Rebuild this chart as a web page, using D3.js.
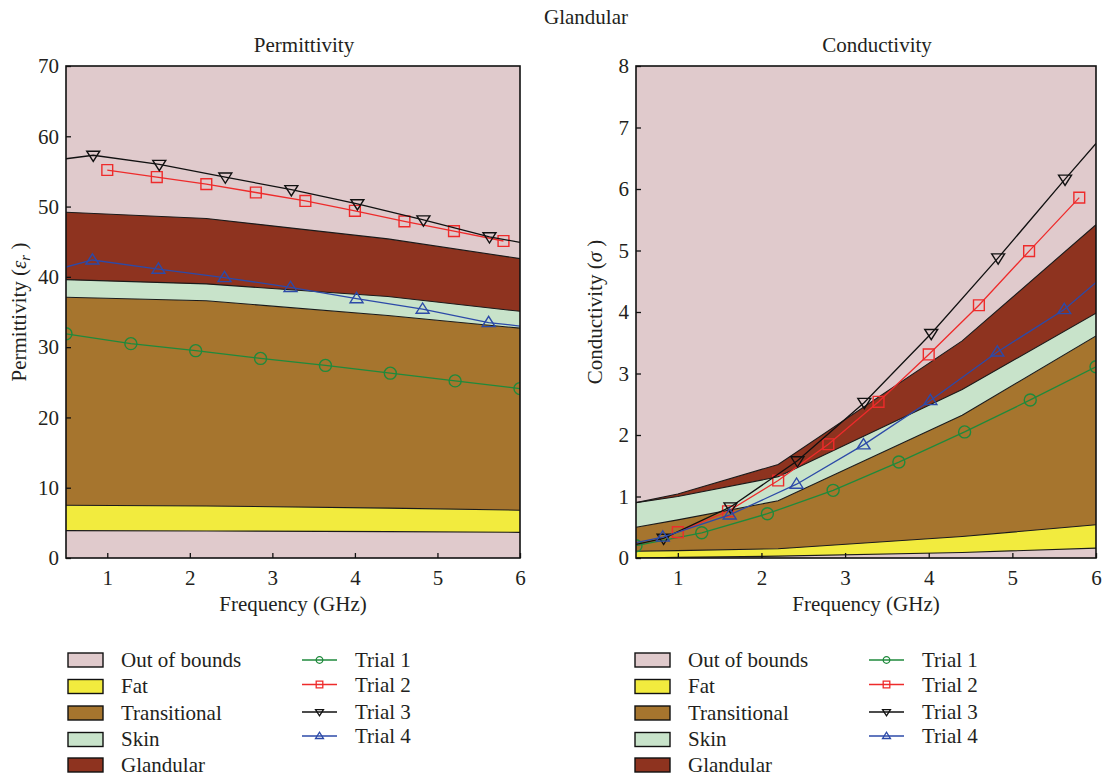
<!DOCTYPE html>
<html>
<head>
<meta charset="utf-8">
<script src="https://cdn.jsdelivr.net/npm/d3@7"></script>
<style>
  html, body { margin: 0; padding: 0; background: #fff; }
  svg text { font-family: "Liberation Serif", "DejaVu Serif", serif; fill: #231f20; }
</style>
</head>
<body>
<div id="plot"></div>
<script>
// tissue bands, boundaries
const permFreq = [0.5, 2.2, 4.4, 6];
const permFatLow = [3.9, 3.85, 3.75, 3.65];
const permFatHigh = [7.5, 7.4, 7.1, 6.8];
const permTransHigh = [37.1, 36.6, 34.5, 32.7];
const permSkinHigh = [39.6, 39.0, 37.2, 35.1];
const permGlandHigh = [49.2, 48.3, 45.4, 42.6];

const condFreq = [0.5, 1.0, 2.2, 4.4, 6];
const condFatLow = [0.0, 0.01, 0.03, 0.09, 0.16];
const condFatHigh = [0.11, 0.12, 0.15, 0.35, 0.54];
const condTransHigh = [0.50, 0.62, 0.93, 2.32, 3.61];
const condSkinHigh = [0.90, 1.00, 1.32, 2.74, 3.98];
const condGlandHigh = [0.90, 1.04, 1.52, 3.53, 5.42];

// trials (first/last entry of trial 3 and 4 are line ends without marker)
const trial1Freq = [0.5, 1.286, 2.071, 2.857, 3.643, 4.429, 5.214, 6.0];
const trial1Perm = [31.9, 30.5, 29.5, 28.4, 27.4, 26.3, 25.2, 24.1];
const trial1Cond = [0.20, 0.41, 0.72, 1.10, 1.56, 2.05, 2.57, 3.11];
const trial1Marked = [1, 1, 1, 1, 1, 1, 1, 1];

const trial2Freq = [1.0, 1.6, 2.2, 2.8, 3.4, 4.0, 4.6, 5.2, 5.8];
const trial2Perm = [55.2, 54.2, 53.2, 52.0, 50.8, 49.4, 47.9, 46.5, 45.1];
const trial2Cond = [0.42, 0.76, 1.26, 1.85, 2.54, 3.31, 4.11, 4.99, 5.86];
const trial2Marked = [1, 1, 1, 1, 1, 1, 1, 1, 1];

const trial3Freq = [0.5, 0.83, 1.63, 2.43, 3.23, 4.03, 4.83, 5.63, 6.0];
const trial3Perm = [56.8, 57.3, 56.0, 54.2, 52.4, 50.4, 48.1, 45.7, 44.9];
const trial3Cond = [0.22, 0.32, 0.83, 1.58, 2.53, 3.65, 4.88, 6.16, 6.74];
const trial3Marked = [0, 1, 1, 1, 1, 1, 1, 1, 0];

const trial4Freq = [0.5, 0.82, 1.62, 2.42, 3.22, 4.02, 4.82, 5.62, 6.0];
const trial4Perm = [41.4, 42.4, 41.1, 39.9, 38.5, 36.9, 35.4, 33.5, 33.0];
const trial4Cond = [0.25, 0.34, 0.70, 1.20, 1.84, 2.56, 3.35, 4.04, 4.48];
const trial4Marked = [0, 1, 1, 1, 1, 1, 1, 1, 0];

const tissueNames = ['Out of bounds', 'Fat', 'Transitional', 'Skin', 'Glandular'];
const tissueColors = ['#e0cacc', '#f2eb3e', '#a6752e', '#c8e3ca', '#8e331f'];
const trialNames = ['Trial 1', 'Trial 2', 'Trial 3', 'Trial 4'];
const trialColors = ['#1f8a3c', '#ee2b2b', '#111111', '#2c4aa8'];
const trialSymbols = ['circle', 'square', 'down', 'up'];

const xTicks = [1, 2, 3, 4, 5, 6];
const permTicks = [0, 10, 20, 30, 40, 50, 60, 70];
const condTicks = [0, 1, 2, 3, 4, 5, 6, 7, 8];

const W = 1108, H = 776;
const fontSize = 21;

const svg = d3.select('#plot').append('svg')
    .attr('width', W).attr('height', H);
svg.append('rect').attr('width', W).attr('height', H).attr('fill', '#fff');

svg.append('text')
    .attr('x', 586).attr('y', 24)
    .attr('text-anchor', 'middle')
    .attr('font-size', fontSize)
    .text('Glandular');

function markerPath(sym, s) {
    // s = half size
    if (sym === 'circle') return d3.symbol(d3.symbolCircle, Math.PI * s * s)();
    if (sym === 'square') return `M${-s},${-s}H${s}V${s}H${-s}Z`;
    const h = s * 1.2;
    if (sym === 'down') return `M${-h},${-s * 0.75}H${h}L0,${s * 1.15}Z`;
    return `M${-h},${s * 0.75}H${h}L0,${-s * 1.15}Z`;
}

function drawPanel(opt) {
    const x = d3.scaleLinear().domain([0.5, 6]).range([opt.left, opt.right]);
    const y = d3.scaleLinear().domain(opt.yDomain).range([558, 66]);
    const g = svg.append('g');

    const clipId = 'clip-' + opt.id;
    g.append('clipPath').attr('id', clipId)
        .append('rect')
        .attr('x', opt.left).attr('y', 66)
        .attr('width', opt.right - opt.left).attr('height', 558 - 66);

    const plotG = g.append('g').attr('clip-path', `url(#${clipId})`);

    plotG.append('rect')
        .attr('x', opt.left).attr('y', 66)
        .attr('width', opt.right - opt.left).attr('height', 558 - 66)
        .attr('fill', tissueColors[0]);

    const bounds = opt.bounds;
    const freq = opt.freq;
    for (let i = 0; i < bounds.length - 1; i++) {
        const lo = bounds[i], hi = bounds[i + 1];
        const area = d3.area()
            .x((d, k) => x(freq[k]))
            .y0((d, k) => y(lo[k]))
            .y1((d, k) => y(hi[k]));
        plotG.append('path')
            .attr('d', area(freq))
            .attr('fill', tissueColors[i + 1]);
    }
    bounds.forEach(b => {
        const line = d3.line().x((d, k) => x(freq[k])).y((d, k) => y(b[k]));
        plotG.append('path')
            .attr('d', line(freq))
            .attr('fill', 'none')
            .attr('stroke', '#1a1a1a')
            .attr('stroke-width', 1.1);
    });

    opt.trials.forEach((t, ti) => {
        const line = d3.line().x((d, k) => x(t.freq[k])).y((d, k) => y(t.val[k]));
        plotG.append('path')
            .attr('d', line(t.freq))
            .attr('fill', 'none')
            .attr('stroke', trialColors[ti])
            .attr('stroke-width', 1.3);
        const pts = t.freq.map((f, k) => ({f, v: t.val[k], m: t.marked[k]})).filter(p => p.m);
        plotG.selectAll(null)
            .data(pts)
            .enter()
            .append('path')
            .attr('transform', p => `translate(${x(p.f)},${y(p.v)})`)
            .attr('d', markerPath(trialSymbols[ti], trialSymbols[ti] === 'circle' ? 6 : 5.4))
            .attr('fill', 'none')
            .attr('stroke', trialColors[ti])
            .attr('stroke-width', 1.4);
    });

    // frame
    g.append('rect')
        .attr('x', opt.left).attr('y', 66)
        .attr('width', opt.right - opt.left).attr('height', 558 - 66)
        .attr('fill', 'none')
        .attr('stroke', '#111')
        .attr('stroke-width', 1.6);

    const xAxis = g.append('g')
        .attr('transform', 'translate(0,558)')
        .call(d3.axisBottom(x).tickValues(xTicks).tickSizeInner(-5).tickSizeOuter(0).tickPadding(12).tickFormat(d3.format('d')));
    const yAxis = g.append('g')
        .attr('transform', `translate(${opt.left},0)`)
        .call(d3.axisLeft(y).tickValues(opt.yTicks).tickSizeInner(-5).tickSizeOuter(0).tickPadding(7).tickFormat(d3.format('d')));
    [xAxis, yAxis].forEach(a => {
        a.select('.domain').remove();
        a.selectAll('line').attr('stroke', '#111').attr('stroke-width', 1.3);
        a.selectAll('text')
            .attr('font-size', fontSize)
            .attr('font-family', '"Liberation Serif", serif')
            .attr('fill', '#231f20');
    });

    g.append('text')
        .attr('x', (opt.left + opt.right) / 2 + 11).attr('y', 52)
        .attr('text-anchor', 'middle')
        .attr('font-size', fontSize)
        .text(opt.title);

    g.append('text')
        .attr('x', (opt.left + opt.right) / 2).attr('y', 611)
        .attr('text-anchor', 'middle')
        .attr('font-size', fontSize)
        .text('Frequency (GHz)');

    const yl = g.append('text')
        .attr('transform', `translate(${opt.yLabelX},312) rotate(-90)`)
        .attr('text-anchor', 'middle')
        .attr('font-size', fontSize);
    yl.append('tspan').text(opt.yLabel + ' (');
    yl.append('tspan').attr('font-style', 'italic').text(opt.ySym);
    if (opt.ySub) {
        yl.append('tspan').attr('font-style', 'italic').attr('font-size', 15).attr('dy', 4).text(opt.ySub);
        yl.append('tspan').attr('dy', -4).text(' )');
    } else {
        yl.append('tspan').text(' )');
    }
}

function drawLegend(x0, xTrial) {
    const rows = [660, 686.5, 713, 739.5, 765];
    const g = svg.append('g');
    tissueNames.forEach((name, i) => {
        g.append('rect')
            .attr('x', x0).attr('y', rows[i] - 7)
            .attr('width', 35).attr('height', 14)
            .attr('fill', tissueColors[i])
            .attr('stroke', '#111').attr('stroke-width', 1.4);
        g.append('text')
            .attr('x', x0 + 53).attr('y', rows[i] + 6.5)
            .attr('font-size', fontSize)
            .text(name);
    });
    const trows = [660, 684.5, 712, 736];
    trialNames.forEach((name, i) => {
        g.append('line')
            .attr('x1', xTrial).attr('x2', xTrial + 35)
            .attr('y1', trows[i]).attr('y2', trows[i])
            .attr('stroke', trialColors[i]).attr('stroke-width', 1.3);
        g.append('path')
            .attr('transform', `translate(${xTrial + 17.5},${trows[i]})`)
            .attr('d', markerPath(trialSymbols[i], 3.3))
            .attr('fill', 'none')
            .attr('stroke', trialColors[i]).attr('stroke-width', 1.3);
        g.append('text')
            .attr('x', xTrial + 53).attr('y', trows[i] + 7)
            .attr('font-size', fontSize)
            .text(name);
    });
}

drawPanel({
    id: 'perm', left: 66, right: 520,
    yDomain: [0, 70], yTicks: permTicks,
    title: 'Permittivity', yLabel: 'Permittivity', ySym: 'ε', ySub: 'r', yLabelX: 26,
    freq: permFreq,
    bounds: [permFatLow, permFatHigh, permTransHigh, permSkinHigh, permGlandHigh],
    trials: [
        {freq: trial1Freq, val: trial1Perm, marked: trial1Marked},
        {freq: trial2Freq, val: trial2Perm, marked: trial2Marked},
        {freq: trial3Freq, val: trial3Perm, marked: trial3Marked},
        {freq: trial4Freq, val: trial4Perm, marked: trial4Marked}
    ]
});

drawPanel({
    id: 'cond', left: 636, right: 1096,
    yDomain: [0, 8], yTicks: condTicks,
    title: 'Conductivity', yLabel: 'Conductivity', ySym: 'σ', ySub: null, yLabelX: 602,
    freq: condFreq,
    bounds: [condFatLow, condFatHigh, condTransHigh, condSkinHigh, condGlandHigh],
    trials: [
        {freq: trial1Freq, val: trial1Cond, marked: trial1Marked},
        {freq: trial2Freq, val: trial2Cond, marked: trial2Marked},
        {freq: trial3Freq, val: trial3Cond, marked: trial3Marked},
        {freq: trial4Freq, val: trial4Cond, marked: trial4Marked}
    ]
});

drawLegend(68, 302);
drawLegend(635, 869);
</script>
</body>
</html>
